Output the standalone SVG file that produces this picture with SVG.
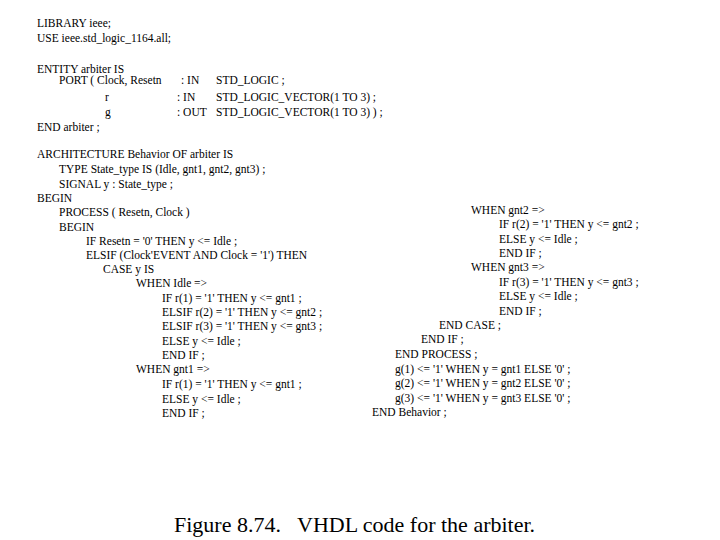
<svg xmlns="http://www.w3.org/2000/svg" width="720" height="540" viewBox="0 0 720 540">
<style>
text{font-family:"Liberation Serif","Times New Roman",serif;font-size:11.5px;fill:#000}
.cap{font-size:22px}
</style>
<rect width="720" height="540" fill="#fff"/>
<g id="left">
<text x="37" y="27">LIBRARY ieee;</text>
<text x="37" y="42">USE ieee.std_logic_1164.all;</text>
<text x="37" y="73">ENTITY arbiter IS</text>
<text x="59" y="84">PORT ( Clock, Resetn</text>
<text x="181" y="84">: IN</text>
<text x="216" y="84">STD_LOGIC ;</text>
<text x="105" y="101">r</text>
<text x="177" y="101">: IN</text>
<text x="216" y="101">STD_LOGIC_VECTOR(1 TO 3) ;</text>
<text x="105" y="116">g</text>
<text x="177" y="116">: OUT</text>
<text x="216" y="116">STD_LOGIC_VECTOR(1 TO 3) ) ;</text>
<text x="37" y="131">END arbiter ;</text>
<text x="37" y="158">ARCHITECTURE Behavior OF arbiter IS</text>
<text x="59" y="173">TYPE State_type IS (Idle, gnt1, gnt2, gnt3) ;</text>
<text x="59" y="188">SIGNAL y : State_type ;</text>
<text x="37" y="202">BEGIN</text>
<text x="59" y="216">PROCESS ( Resetn, Clock )</text>
<text x="59" y="231">BEGIN</text>
<text x="86" y="245">IF Resetn = '0' THEN y &lt;= Idle ;</text>
<text x="86" y="259">ELSIF (Clock'EVENT AND Clock = '1') THEN</text>
<text x="103" y="273">CASE y IS</text>
<text x="136" y="287">WHEN Idle =&gt;</text>
<text x="162" y="302">IF r(1) = '1' THEN y &lt;= gnt1 ;</text>
<text x="162" y="316">ELSIF r(2) = '1' THEN y &lt;= gnt2 ;</text>
<text x="162" y="330">ELSIF r(3) = '1' THEN y &lt;= gnt3 ;</text>
<text x="162" y="345">ELSE y &lt;= Idle ;</text>
<text x="162" y="359">END IF ;</text>
<text x="136" y="373">WHEN gnt1 =&gt;</text>
<text x="162" y="388">IF r(1) = '1' THEN y &lt;= gnt1 ;</text>
<text x="162" y="403">ELSE y &lt;= Idle ;</text>
<text x="162" y="417">END IF ;</text>
</g>
<g id="right">
<text x="471" y="214">WHEN gnt2 =&gt;</text>
<text x="499" y="228">IF r(2) = '1' THEN y &lt;= gnt2 ;</text>
<text x="499" y="243">ELSE y &lt;= Idle ;</text>
<text x="499" y="257">END IF ;</text>
<text x="471" y="271">WHEN gnt3 =&gt;</text>
<text x="499" y="286">IF r(3) = '1' THEN y &lt;= gnt3 ;</text>
<text x="499" y="300">ELSE y &lt;= Idle ;</text>
<text x="499" y="315">END IF ;</text>
<text x="439" y="329">END CASE ;</text>
<text x="421" y="343">END IF ;</text>
<text x="395" y="358">END PROCESS ;</text>
<text x="395" y="373">g(1) &lt;= '1' WHEN y = gnt1 ELSE '0' ;</text>
<text x="395" y="387">g(2) &lt;= '1' WHEN y = gnt2 ELSE '0' ;</text>
<text x="395" y="402">g(3) &lt;= '1' WHEN y = gnt3 ELSE '0' ;</text>
<text x="372" y="416">END Behavior ;</text>
</g>
<text class="cap" x="174" y="532" xml:space="preserve">Figure 8.74.   VHDL code for the arbiter.</text>
</svg>
